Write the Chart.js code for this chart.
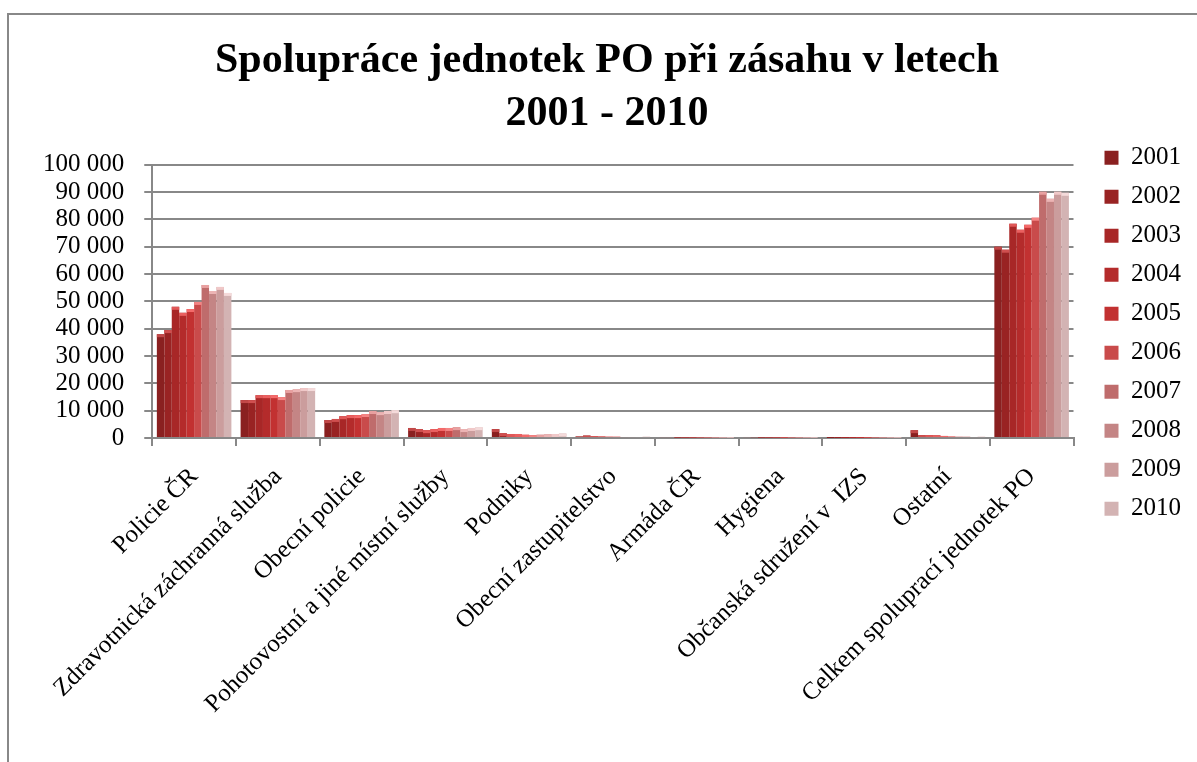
<!DOCTYPE html>
<html>
<head>
<meta charset="utf-8">
<script src="https://cdn.jsdelivr.net/npm/chart.js@4"></script>
<style>
  html, body { margin: 0; padding: 0; background: #fff; }
  #frame { position: absolute; left: 7px; top: 13px; width: 1300px; height: 900px;
           border-left: 2px solid #888; border-top: 2px solid #888; }
  #wrap { position: absolute; left: 0; top: 0; width: 1197px; height: 762px; }
</style>
</head>
<body>
<div id="frame"></div>
<div id="wrap"><canvas id="spoluprace"></canvas></div>
<script>
const categories = ['Policie ČR', 'Zdravotnická záchranná služba', 'Obecní policie',
    'Pohotovostní a jiné místní služby', 'Podniky', 'Obecní zastupitelstvo', 'Armáda ČR',
    'Hygiena', 'Občanská sdružení v  IZS', 'Ostatní', 'Celkem spoluprací jednotek PO'];

const years = ['2001', '2002', '2003', '2004', '2005', '2006', '2007', '2008', '2009', '2010'];

// one array per year, in the order of the categories
const y2001 = [38000, 13900, 6600, 3700, 3300, 600, 400, 400, 20, 2900, 70000];
const y2002 = [39500, 13900, 7000, 3300, 1800, 900, 400, 300, 20, 1100, 68900];
const y2003 = [48000, 15700, 8000, 2900, 1500, 700, 100, 100, 20, 1100, 78400];
const y2004 = [45800, 15700, 8400, 3300, 1500, 600, 100, 100, 20, 1000, 76200];
const y2005 = [47200, 15700, 8400, 3700, 1200, 500, 100, 100, 20, 800, 78000];
const y2006 = [49800, 15000, 8800, 3700, 1100, 500, 100, 50, 20, 600, 80600];
const y2007 = [56000, 17600, 9900, 4000, 1200, 400, 50, 50, 20, 500, 90100];
const y2008 = [53800, 17900, 9500, 3300, 1400, 400, 50, 50, 20, 500, 87500];
const y2009 = [55300, 18300, 9900, 3700, 1500, 400, 50, 50, 20, 400, 90100];
const y2010 = [53100, 18300, 10200, 4000, 1700, 500, 50, 50, 20, 500, 89700];

const yearValues = [y2001, y2002, y2003, y2004, y2005, y2006, y2007, y2008, y2009, y2010];

const barColors = ['#8a2020', '#992323', '#a82727', '#b42b2b', '#c23131', '#c94b4b',
                   '#bf6c6c', '#c48585', '#cb9d9d', '#d3b3b3'];
const capColors = ['#c24848', '#cf4f4f', '#e05858', '#ea6060', '#f46a6a', '#f48484',
                   '#e8a0a0', '#ecb4b4', '#f0c8c8', '#f4dada'];

const serif = "'Liberation Serif', 'DejaVu Serif', serif";

// light cap on top of every column, like the 3D columns of the original
const capPlugin = {
    id: 'caps',
    afterDatasetsDraw(chart) {
        const ctx = chart.ctx;
        chart.data.datasets.forEach((ds, i) => {
            chart.getDatasetMeta(i).data.forEach(bar => {
                const w = bar.width;
                const h = Math.min(3, bar.base - bar.y);
                if (h <= 0) return;
                ctx.save();
                ctx.fillStyle = capColors[i];
                ctx.fillRect(bar.x - w / 2, bar.y, w, h);
                ctx.restore();
            });
        });
    }
};

new Chart(document.getElementById('spoluprace'), {
    type: 'bar',
    data: {
        labels: categories,
        datasets: years.map((yr, i) => ({
            label: yr,
            data: yearValues[i],
            backgroundColor: barColors[i],
            borderWidth: 0,
            categoryPercentage: 0.89,
            barPercentage: 1.0
        }))
    },
    plugins: [capPlugin],
    options: {
        responsive: true,
        maintainAspectRatio: false,
        animation: false,
        layout: { padding: { left: 23, right: 6, top: 0, bottom: 27 } },
        plugins: {
            title: {
                display: true,
                text: ['Spolupráce jednotek PO při zásahu v letech', '2001 - 2010'],
                color: '#000',
                font: { family: serif, size: 42, weight: 'bold', lineHeight: 1.27 },
                padding: { top: 34, bottom: 24 }
            },
            legend: {
                position: 'right',
                align: 'start',
                title: { display: true, text: ' ', font: { size: 1 }, padding: { top: 130, bottom: 0 } },
                labels: {
                    color: '#000',
                    font: { family: serif, size: 25 },
                    boxWidth: 14,
                    boxHeight: 14,
                    padding: 14
                }
            },
            tooltip: { enabled: false }
        },
        scales: {
            x: {
                grid: { display: true, drawOnChartArea: false, color: '#888', lineWidth: 2, tickLength: 8 },
                border: { color: '#888', width: 2 },
                ticks: {
                    color: '#000',
                    font: { family: serif, size: 25 },
                    maxRotation: 45,
                    minRotation: 45,
                    autoSkip: false,
                    padding: 16
                }
            },
            y: {
                min: 0,
                max: 100000,
                grid: { color: '#888', lineWidth: 2, tickLength: 8 },
                border: { color: '#888', width: 2 },
                ticks: {
                    stepSize: 10000,
                    autoSkip: false,
                    color: '#000',
                    font: { family: serif, size: 25 },
                    padding: 20,
                    callback: v => v.toString().replace(/\B(?=(\d{3})+(?!\d))/g, ' ')
                }
            },
            // empty axis on the right, only keeps a gap before the legend
            gap: {
                position: 'right',
                display: true,
                grid: { display: false, drawTicks: false },
                border: { display: false },
                ticks: { display: false },
                afterFit(scale) { scale.width = 17; }
            }
        }
    }
});
</script>
</body>
</html>
